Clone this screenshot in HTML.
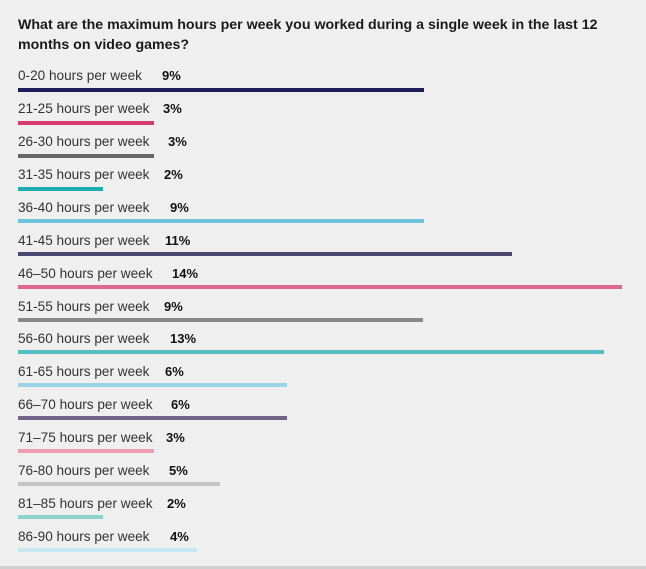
<!DOCTYPE html>
<html><head><meta charset="utf-8"><style>
body{margin:0;width:646px;height:569px;background:#efefef;position:relative;overflow:hidden;font-family:"Liberation Sans",sans-serif;}
.t{position:absolute;left:18px;top:15px;font-weight:bold;font-size:14.2px;line-height:20px;color:#1a1a1a;width:620px}
.l{position:absolute;left:18px;font-size:13.6px;line-height:15px;color:#333;white-space:nowrap}
.p{position:absolute;font-size:13px;line-height:15px;font-weight:bold;color:#111}
.b{position:absolute;left:18px;height:4px}
.bot{position:absolute;left:0;top:566px;width:646px;height:3px;background:#cfcfcf}
</style></head><body>
<div class="t">What are the maximum hours per week you worked during a single week in the last 12 months on video games?</div>
<div class="l" style="top:68px">0-20 hours per week</div><div class="p" style="left:162px;top:68px">9%</div><div class="b" style="top:88px;width:406px;background:#1e1e5c"></div>
<div class="l" style="top:101px">21-25 hours per week</div><div class="p" style="left:163px;top:101px">3%</div><div class="b" style="top:121px;width:136px;background:#d63a6e"></div>
<div class="l" style="top:134px">26-30 hours per week</div><div class="p" style="left:168px;top:134px">3%</div><div class="b" style="top:154px;width:136px;background:#666"></div>
<div class="l" style="top:167px">31-35 hours per week</div><div class="p" style="left:164px;top:167px">2%</div><div class="b" style="top:187px;width:85px;background:#1eaeb0"></div>
<div class="l" style="top:200px">36-40 hours per week</div><div class="p" style="left:170px;top:200px">9%</div><div class="b" style="top:219px;width:406px;background:#6cc4dc"></div>
<div class="l" style="top:233px">41-45 hours per week</div><div class="p" style="left:165px;top:233px">11%</div><div class="b" style="top:252px;width:494px;background:#4a4870"></div>
<div class="l" style="top:266px">46–50 hours per week</div><div class="p" style="left:172px;top:266px">14%</div><div class="b" style="top:285px;width:604px;background:#e06790"></div>
<div class="l" style="top:299px">51-55 hours per week</div><div class="p" style="left:164px;top:299px">9%</div><div class="b" style="top:318px;width:405px;background:#888"></div>
<div class="l" style="top:331px">56-60 hours per week</div><div class="p" style="left:170px;top:331px">13%</div><div class="b" style="top:350px;width:586px;background:#55bec0"></div>
<div class="l" style="top:364px">61-65 hours per week</div><div class="p" style="left:165px;top:364px">6%</div><div class="b" style="top:383px;width:269px;background:#9ad4e4"></div>
<div class="l" style="top:397px">66–70 hours per week</div><div class="p" style="left:171px;top:397px">6%</div><div class="b" style="top:416px;width:269px;background:#716488"></div>
<div class="l" style="top:430px">71–75 hours per week</div><div class="p" style="left:166px;top:430px">3%</div><div class="b" style="top:449px;width:136px;background:#ee9cb2"></div>
<div class="l" style="top:463px">76-80 hours per week</div><div class="p" style="left:169px;top:463px">5%</div><div class="b" style="top:482px;width:202px;background:#c4c4c4"></div>
<div class="l" style="top:496px">81–85 hours per week</div><div class="p" style="left:167px;top:496px">2%</div><div class="b" style="top:515px;width:85px;background:#8ed2cc"></div>
<div class="l" style="top:529px">86-90 hours per week</div><div class="p" style="left:170px;top:529px">4%</div><div class="b" style="top:548px;width:179px;background:#c6e6f0"></div>
<div class="bot"></div>
</body></html>
